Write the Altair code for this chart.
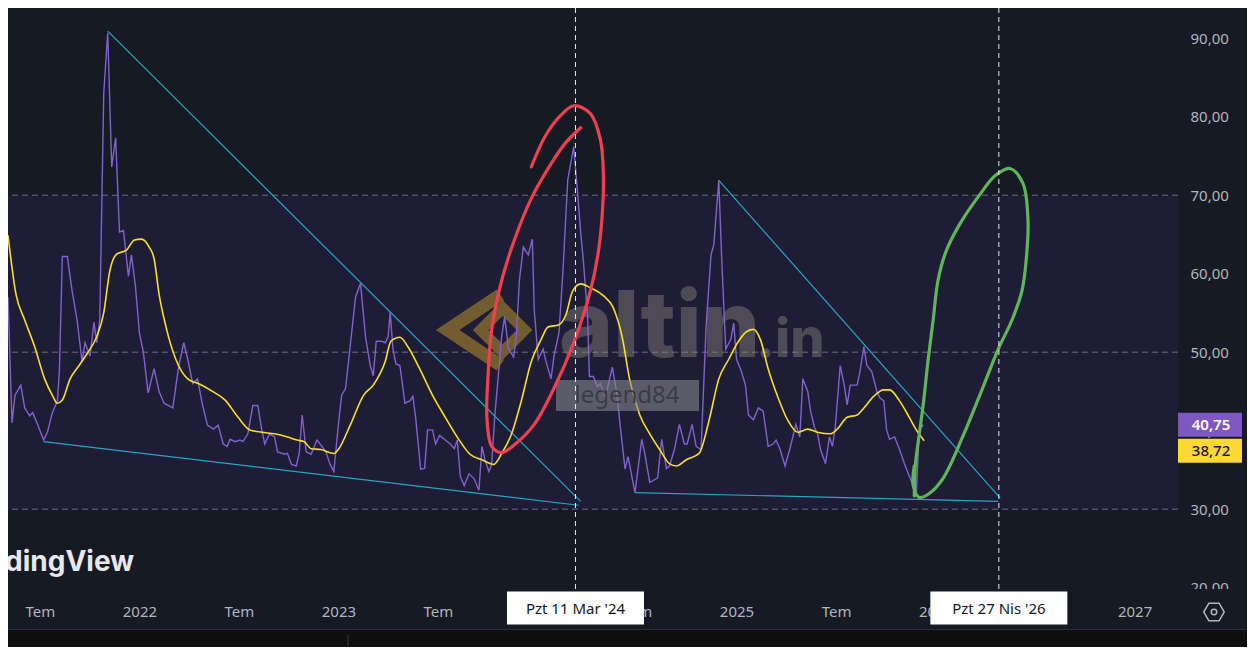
import json
import altair as alt
import pandas as pd

# ---------------- data ----------------
rsi_year = [2021.340, 2021.360, 2021.375, 2021.404, 2021.424, 2021.449, 2021.464, 2021.489, 2021.519, 2021.538,
            2021.563, 2021.588, 2021.598, 2021.613, 2021.638, 2021.662, 2021.687, 2021.712, 2021.727, 2021.752,
            2021.772, 2021.786, 2021.801, 2021.821, 2021.841, 2021.861, 2021.881, 2021.900, 2021.920, 2021.945,
            2021.960, 2021.980, 2022.000, 2022.020, 2022.044, 2022.074, 2022.099, 2022.124, 2022.168, 2022.198,
            2022.223, 2022.243, 2022.268, 2022.292, 2022.317, 2022.342, 2022.372, 2022.396, 2022.421, 2022.441,
            2022.456, 2022.481, 2022.506, 2022.520, 2022.545, 2022.570, 2022.595, 2022.615, 2022.630, 2022.654,
            2022.679, 2022.694, 2022.729, 2022.744, 2022.764, 2022.788, 2022.803, 2022.818, 2022.838, 2022.863,
            2022.892, 2022.917, 2022.937, 2022.957, 2022.977, 2023.002, 2023.016, 2023.036, 2023.061, 2023.086,
            2023.111, 2023.136, 2023.160, 2023.175, 2023.190, 2023.215, 2023.235, 2023.250, 2023.260, 2023.274,
            2023.289, 2023.309, 2023.334, 2023.359, 2023.374, 2023.388, 2023.413, 2023.433, 2023.448, 2023.473,
            2023.488, 2023.508, 2023.532, 2023.562, 2023.582, 2023.597, 2023.612, 2023.632, 2023.656, 2023.681,
            2023.706, 2023.721, 2023.736, 2023.756, 2023.770, 2023.785, 2023.805, 2023.820, 2023.835, 2023.855,
            2023.880, 2023.894, 2023.909, 2023.929, 2023.954, 2023.974, 2023.984, 2024.004, 2024.028, 2024.043,
            2024.068, 2024.083, 2024.108, 2024.128, 2024.152, 2024.182, 2024.202, 2024.217, 2024.232, 2024.252,
            2024.261, 2024.281, 2024.301, 2024.316, 2024.341, 2024.376, 2024.400, 2024.415, 2024.440, 2024.455,
            2024.490, 2024.524, 2024.539, 2024.564, 2024.604, 2024.624, 2024.648, 2024.663, 2024.688, 2024.713,
            2024.738, 2024.752, 2024.777, 2024.797, 2024.822, 2024.847, 2024.872, 2024.886, 2024.911, 2024.926,
            2024.946, 2024.971, 2024.986, 2025.000, 2025.025, 2025.045, 2025.060, 2025.085, 2025.110, 2025.134,
            2025.159, 2025.184, 2025.199, 2025.219, 2025.244, 2025.268, 2025.283, 2025.298, 2025.318, 2025.333,
            2025.358, 2025.372, 2025.392, 2025.407, 2025.422, 2025.447, 2025.467, 2025.482, 2025.496, 2025.521,
            2025.541, 2025.556, 2025.571, 2025.606, 2025.620, 2025.640, 2025.655, 2025.680, 2025.705, 2025.720,
            2025.740, 2025.754, 2025.769, 2025.794, 2025.819, 2025.844, 2025.868, 2025.888, 2025.903, 2025.918,
            2025.938]
rsi_val = [57.0, 41.0, 44.5, 45.8, 42.9, 41.9, 42.3, 40.8, 38.8, 39.8,
           42.3, 43.8, 47.5, 62.2, 62.2, 57.8, 54.1, 48.8, 51.2, 49.5,
           53.8, 51.2, 54.1, 83.0, 90.7, 73.6, 77.3, 65.3, 65.5, 59.7,
           62.4, 58.5, 52.5, 50.0, 44.8, 47.9, 45.0, 43.5, 42.9, 48.3,
           51.2, 49.1, 46.0, 46.6, 43.3, 40.7, 40.2, 40.7, 38.3, 38.0,
           38.9, 38.6, 38.8, 38.6, 39.6, 43.2, 43.2, 40.1, 38.3, 39.6,
           39.2, 37.3, 37.0, 37.1, 35.7, 35.5, 37.1, 42.0, 37.3, 37.0,
           38.8, 38.0, 37.3, 35.8, 34.8, 41.3, 44.5, 45.4, 51.2, 57.0,
           58.8, 52.0, 48.3, 47.0, 51.4, 51.4, 51.2, 52.0, 55.1, 50.4,
           48.5, 48.3, 43.5, 43.8, 44.4, 41.7, 35.1, 35.2, 40.1, 40.1,
           38.3, 39.4, 38.9, 38.3, 37.7, 38.8, 34.2, 33.0, 34.5, 33.9,
           32.4, 38.0, 36.3, 34.8, 35.7, 41.7, 47.5, 52.0, 54.5, 50.4,
           49.4, 52.0, 59.1, 63.4, 62.4, 64.4, 55.3, 49.1, 50.4, 48.8,
           46.6, 49.5, 52.5, 60.3, 71.9, 76.2, 70.2, 65.3, 61.2, 54.5,
           46.9, 46.9, 45.6, 46.0, 44.2, 48.1, 44.5, 40.8, 35.1, 36.7,
           32.1, 38.9, 37.1, 33.4, 34.0, 38.9, 35.2, 35.5, 37.6, 40.8,
           38.3, 38.3, 40.8, 38.0, 37.6, 53.2, 62.4, 63.7, 71.9, 61.6,
           50.4, 51.6, 53.7, 49.1, 47.5, 45.8, 42.0, 41.4, 42.9, 42.5,
           38.0, 38.3, 38.8, 37.6, 35.5, 37.7, 39.2, 40.8, 39.2, 46.6,
           45.0, 42.5, 40.4, 39.6, 37.6, 35.8, 39.2, 38.0, 40.4, 48.3,
           45.8, 43.3, 45.8, 45.8, 47.5, 50.7, 48.3, 47.5, 45.0, 44.2,
           43.8, 40.1, 38.9, 39.2, 37.6, 35.8, 34.2, 33.0, 31.7, 40.1,
           40.75]

ma_year = [2021.340, 2021.380, 2021.424, 2021.474, 2021.524, 2021.563, 2021.588, 2021.613, 2021.652, 2021.697,
           2021.737, 2021.786, 2021.821, 2021.851, 2021.886, 2021.935, 2021.975, 2022.010, 2022.049, 2022.074,
           2022.099, 2022.134, 2022.183, 2022.243, 2022.297, 2022.367, 2022.431, 2022.496, 2022.555, 2022.615,
           2022.679, 2022.744, 2022.793, 2022.828, 2022.863, 2022.912, 2022.977, 2023.002, 2023.061, 2023.126,
           2023.175, 2023.235, 2023.264, 2023.309, 2023.349, 2023.408, 2023.473, 2023.537, 2023.607, 2023.661,
           2023.721, 2023.780, 2023.820, 2023.870, 2023.919, 2023.969, 2024.018, 2024.053, 2024.108, 2024.142,
           2024.177, 2024.217, 2024.266, 2024.331, 2024.380, 2024.425, 2024.465, 2024.514, 2024.564, 2024.614,
           2024.663, 2024.698, 2024.748, 2024.812, 2024.862, 2024.911, 2024.961, 2025.010, 2025.050, 2025.085,
           2025.120, 2025.159, 2025.209, 2025.258, 2025.308, 2025.358, 2025.407, 2025.472, 2025.506, 2025.556,
           2025.606, 2025.640, 2025.690, 2025.740, 2025.769, 2025.819, 2025.868, 2025.903, 2025.943]
ma_val = [64.9, 57.4, 54.1, 50.7, 46.6, 44.5, 43.5, 43.9, 46.6, 48.3,
          49.8, 52.0, 55.0, 60.3, 62.5, 63.0, 64.3, 64.4, 63.4, 61.9,
          57.4, 53.2, 49.1, 46.6, 46.0, 45.0, 43.9, 41.7, 40.1, 39.8,
          39.6, 39.2, 38.8, 38.6, 37.7, 37.6, 37.1, 37.7, 40.8, 44.5,
          45.8, 48.8, 51.4, 51.9, 50.7, 47.9, 44.5, 41.7, 38.8, 37.0,
          36.3, 35.7, 37.1, 39.6, 43.8, 48.8, 51.6, 53.2, 53.5, 54.7,
          57.8, 58.7, 58.2, 57.2, 55.7, 52.0, 46.3, 42.0, 39.6, 37.6,
          35.8, 35.5, 36.3, 37.1, 41.3, 46.6, 49.1, 51.4, 52.6, 52.9,
          51.6, 47.9, 44.2, 41.3, 39.8, 40.2, 39.8, 39.6, 40.2, 41.7,
          42.0, 42.9, 44.4, 45.2, 45.2, 43.8, 41.7, 40.1, 38.72]

trend_id = ["a", "a", "b", "b", "c", "c", "d", "d"]
trend_year = [2021.841, 2024.217, 2021.519, 2024.207, 2024.911, 2026.325, 2024.490, 2026.315]
trend_val = [90.9, 31.0, 38.6, 30.5, 71.9, 31.4, 32.1, 31.0]

red_year = [2023.969, 2024.043, 2024.118, 2024.182, 2024.266, 2024.316, 2024.331, 2024.326, 2024.306, 2024.266,
            2024.182, 2024.083, 2023.984, 2023.884, 2023.820, 2023.770, 2023.746, 2023.751, 2023.770, 2023.820,
            2023.880, 2023.969, 2024.068, 2024.142, 2024.217]
red_val = [73.6, 77.7, 80.2, 81.4, 80.4, 77.1, 72.7, 67.8, 62.8, 57.8,
           51.2, 45.4, 40.8, 38.2, 37.2, 38.0, 41.7, 46.6, 52.9, 59.1,
           64.0, 69.6, 74.0, 76.7, 78.6]

green_year = [2025.893, 2025.888, 2025.918, 2025.968, 2026.037, 2026.136, 2026.236, 2026.315, 2026.384, 2026.434,
              2026.459, 2026.464, 2026.439, 2026.374, 2026.300, 2026.226, 2026.126, 2026.052, 2026.012, 2025.988,
              2025.963, 2025.938, 2025.913, 2025.898, 2025.893]
green_val = [35.5, 33.0, 31.5, 32.0, 33.9, 39.2, 45.4, 50.4, 54.1, 57.8,
             62.8, 67.1, 71.5, 73.4, 72.5, 70.2, 66.5, 62.8, 59.1, 54.1,
             49.1, 43.3, 38.6, 35.5, 31.7]

band_levels = [70, 50, 30]
cross_year = [2024.191, 2026.318]
cross_label = ["Pzt 11 Mar '24", "Pzt 27 Nis '26"]
rsi_last, rsi_last_label = 40.75, "40,75"
ma_last, ma_last_label = 38.72, "38,72"

# tick labels visible in the reference (the 2024 and mid-2026 ones sit under the crosshair labels)
x_tick_values = [2021.5, 2022, 2022.5, 2023, 2023.5, 2024.5, 2025, 2025.5, 2026, 2027]
x_tick_labels = ["Tem", "2022", "Tem", "2023", "Tem", "Tem", "2025", "Tem", "2026", "2027"]
y_tick_values = [20, 30, 40, 50, 60, 70, 80, 90]

# ---------------- layout / style ----------------
W, H = 1170, 585
BG = "#161a25"
AX = "#b2b5be"
FONT = "Noto Sans"

label_map = json.dumps({str(v): l for v, l in zip(x_tick_values, x_tick_labels)})
xs = alt.Scale(domain=[2021.340, 2027.218], nice=False, zero=False)
ys = alt.Scale(domain=[19.32, 93.85], nice=False, zero=False)
x_axis = alt.Axis(values=x_tick_values, labelExpr=f"{label_map}[datum.value]", grid=False, ticks=False,
                  domain=False, labelColor=AX, labelFont=FONT, labelFontSize=15, labelPadding=11,
                  labelOverlap=False, labelFlush=False, title=None)
y_axis = alt.Axis(values=y_tick_values, orient="right", labelExpr="replace(format(datum.value, '.2f'), '.', ',')",
                  grid=False, ticks=False, domain=False, labelColor=AX, labelFont=FONT, labelFontSize=15,
                  labelPadding=12, labelAlign="left", labelBaseline="middle", title=None)


def X(field="year"):
    return alt.X(f"{field}:Q", scale=xs, axis=x_axis)


def Y(field="val"):
    return alt.Y(f"{field}:Q", scale=ys, axis=y_axis)


rsi_df = pd.DataFrame({"year": rsi_year, "val": rsi_val})
ma_df = pd.DataFrame({"year": ma_year, "val": ma_val})
trend_df = pd.DataFrame({"id": trend_id, "year": trend_year, "val": trend_val})
red_df = pd.DataFrame({"year": red_year, "val": red_val, "i": list(range(len(red_year)))})
green_df = pd.DataFrame({"year": green_year, "val": green_val, "i": list(range(len(green_year)))})
lev_df = pd.DataFrame({"val": band_levels})
band_df = pd.DataFrame({"val": [70], "val2": [30]})
cross_df = pd.DataFrame({"year": cross_year, "label": cross_label})
rsi_last_df = pd.DataFrame({"val": [rsi_last], "label": [rsi_last_label]})
ma_last_df = pd.DataFrame({"val": [ma_last], "label": [ma_last_label]})
one = pd.DataFrame({"k": [0]})

band = alt.Chart(band_df).mark_rect(color="#1f1d35").encode(
    x=alt.value(0), x2=alt.value(W), y=Y("val"), y2="val2:Q")
levels = alt.Chart(lev_df).mark_rule(color="#8a8aa0", strokeDash=[6, 4], strokeWidth=1, opacity=0.75).encode(
    y=Y("val"))

# watermarks
tv_text = alt.Chart(one).mark_text(text="TradingView", font="Inter", fontSize=28, fontWeight="bold",
                                   color="#e8e8ec", align="right", baseline="alphabetic", clip=True).encode(
    x=alt.value(126), y=alt.value(563))
logo_outer = alt.Chart(one).mark_point(shape="M0.35,-0.8 L-0.85,0 L0.35,0.8", filled=False, strokeWidth=13,
                                       color="#7d6430", opacity=0.9, size=7744).encode(
    x=alt.value(477), y=alt.value(322))
logo_inner = alt.Chart(one).mark_point(shape="M0.4,-0.5 L0.9,0 L0.4,0.5 L-0.1,0 Z", filled=False,
                                       strokeWidth=11, color="#7d6430", opacity=0.9, size=7744).encode(
    x=alt.value(477), y=alt.value(322))
alt_text = alt.Chart(one).mark_text(text="altin", font="Inter", fontSize=92, fontWeight=800, color="#8f8a84",
                                    opacity=0.42, align="left", baseline="alphabetic").encode(
    x=alt.value(551), y=alt.value(349))
in_text = alt.Chart(one).mark_text(text=".in", font="Inter", fontSize=54, fontWeight=800, color="#8f8a84",
                                   opacity=0.42, align="left", baseline="alphabetic").encode(
    x=alt.value(748), y=alt.value(349))
leg_box = alt.Chart(one).mark_rect(color="#85858d", opacity=0.6).encode(
    x=alt.value(548), x2=alt.value(691), y=alt.value(372), y2=alt.value(403))
leg_text = alt.Chart(one).mark_text(text="legend84", font="Noto Sans", fontSize=24, color="#3b3b44",
                                    align="center", baseline="middle").encode(
    x=alt.value(619), y=alt.value(388))

trend = alt.Chart(trend_df).mark_line(color="#22a9bf", strokeWidth=1.2).encode(
    x=X(), y=Y(), detail="id:N")
rsi = alt.Chart(rsi_df).mark_line(color="#8062cf", strokeWidth=1.4).encode(x=X(), y=Y())
ma = alt.Chart(ma_df).mark_line(color="#f7e02a", strokeWidth=1.6, interpolate="monotone").encode(x=X(), y=Y())
red = alt.Chart(red_df).mark_line(color="#f0404f", strokeWidth=3.2, interpolate="catmull-rom",
                                  strokeCap="round").encode(x=X(), y=Y(), order="i:Q")
green = alt.Chart(green_df).mark_line(color="#5fb55a", strokeWidth=3.2, interpolate="catmull-rom",
                                      strokeCap="round").encode(x=X(), y=Y(), order="i:Q")
cross = alt.Chart(cross_df).mark_rule(color="#e8e8ee", strokeDash=[5, 4], strokeWidth=1).encode(x=X())

# bottom strip / right cover / footer
cover = alt.Chart(one).mark_rect(color=BG).encode(
    x=alt.value(W), x2=alt.value(W + 69), y=alt.value(H - 4), y2=alt.value(H + 36))
footer = alt.Chart(one).mark_rect(color="#0f0f10").encode(
    x=alt.value(0), x2=alt.value(W + 69), y=alt.value(H + 37), y2=alt.value(H + 54))
footer_line = alt.Chart(one).mark_rule(color="#2a2e39", strokeWidth=1).encode(
    x=alt.value(0), x2=alt.value(W + 69), y=alt.value(H + 36.5))
footer_tick = alt.Chart(one).mark_rule(color="#3a3d45", strokeWidth=1).encode(
    x=alt.value(340), y=alt.value(H + 42), y2=alt.value(H + 54))

cross_box = alt.Chart(cross_df).mark_point(shape="M-1,-0.241 L1,-0.241 L1,0.241 L-1,0.241 Z", filled=True,
                                           color="#ffffff", opacity=1, size=18769, strokeWidth=0).encode(
    x=X(), y=alt.value(H + 15))
cross_text = alt.Chart(cross_df).mark_text(font=FONT, fontSize=15, color="#131722", align="center",
                                           baseline="middle").encode(
    x=X(), y=alt.value(H + 16), text="label:N")

BADGE = "M-1,-0.375 L1,-0.375 L1,0.375 L-1,0.375 Z"
rsi_badge = alt.Chart(rsi_last_df).mark_point(shape=BADGE, filled=True, color="#7e57c2", opacity=1,
                                              size=4096, strokeWidth=0).encode(x=alt.value(W + 32), y=Y("val"))
rsi_badge_text = alt.Chart(rsi_last_df).mark_text(font=FONT, fontSize=15, fontWeight=600, color="#ffffff",
                                                  align="center", baseline="middle").encode(
    x=alt.value(W + 33), y=Y("val"), text="label:N")
ma_badge = alt.Chart(ma_last_df).mark_point(shape=BADGE, filled=True, color="#fdd835", opacity=1,
                                            size=4096, strokeWidth=0, yOffset=10).encode(
    x=alt.value(W + 32), y=Y("val"))
ma_badge_text = alt.Chart(ma_last_df).mark_text(font=FONT, fontSize=15, fontWeight=500, color="#131722",
                                                align="center", baseline="middle", yOffset=10).encode(
    x=alt.value(W + 33), y=Y("val"), text="label:N")

hexagon = alt.Chart(one).mark_point(shape="M-1,0 L-0.5,-0.866 L0.5,-0.866 L1,0 L0.5,0.866 L-0.5,0.866 Z",
                                    filled=False, color=AX, strokeWidth=1.5, size=420, opacity=1).encode(
    x=alt.value(W + 36), y=alt.value(H + 19))
hex_dot = alt.Chart(one).mark_point(shape="circle", filled=False, color=AX, strokeWidth=1.5, size=30,
                                    opacity=1).encode(x=alt.value(W + 36), y=alt.value(H + 19))

chart = alt.layer(
    band, levels, logo_outer, logo_inner, alt_text, in_text, tv_text,
    trend, rsi, ma, leg_box, leg_text, red, green, cross,
    cover, footer, footer_line, footer_tick, cross_box, cross_text,
    rsi_badge, rsi_badge_text, ma_badge, ma_badge_text, hexagon, hex_dot
).properties(
    width=W, height=H,
    padding={"left": 0, "top": 0, "right": 69, "bottom": 54},
    autosize=alt.AutoSizeParams(type="none"),
    background=BG,
).configure_view(strokeWidth=0)

chart.save("out.html", embed_options={"renderer": "svg", "actions": False})
